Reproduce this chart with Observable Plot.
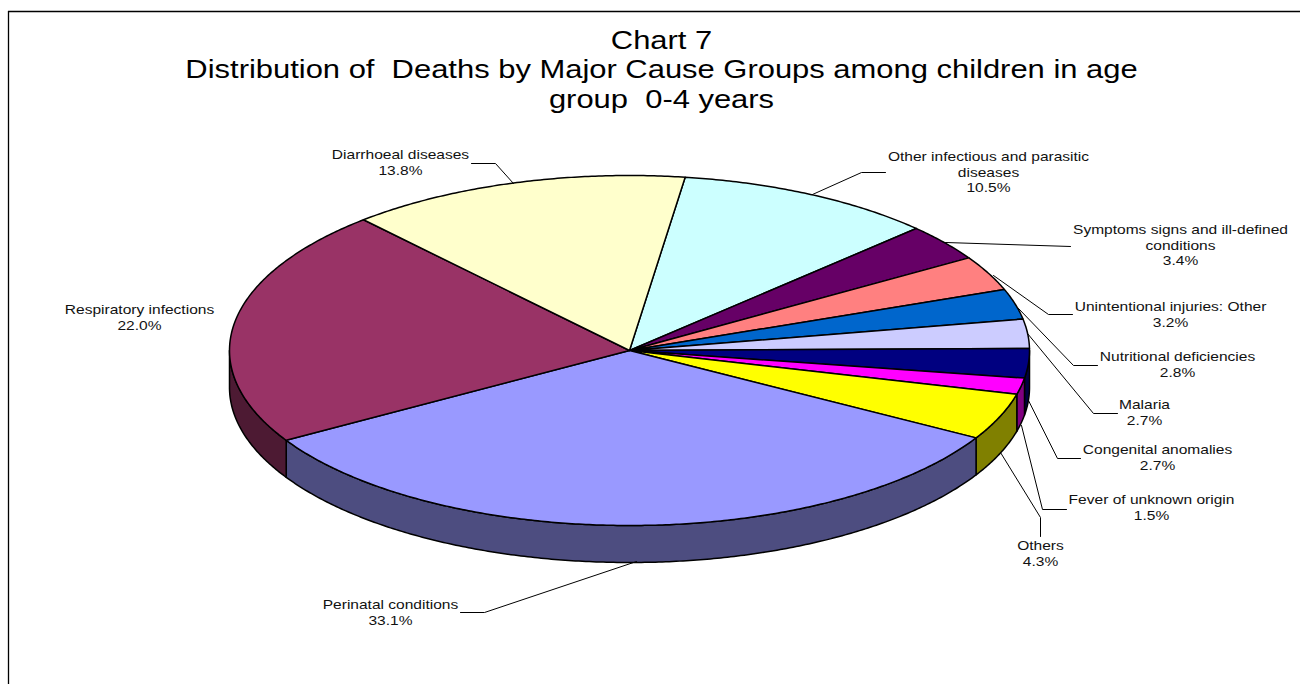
<!DOCTYPE html>
<html>
<head>
<meta charset="utf-8">
<style>
html, body { margin: 0; padding: 0; background: #fff; overflow: hidden; }
svg { display: block; white-space: pre; }
</style>
<script src="https://cdn.jsdelivr.net/npm/d3@7"></script>
<script src="https://cdn.jsdelivr.net/npm/@observablehq/plot@0.6"></script>
</head>
<body>
<div id="chart"></div>
<script>
const titleLines = ["Chart 7", "Distribution of  Deaths by Major Cause Groups among children in age", "group  0-4 years"];
const categories = ["Other infectious and parasitic\ndiseases", "Symptoms signs and ill-defined\nconditions", "Unintentional injuries: Other", "Nutritional deficiencies", "Malaria", "Congenital anomalies", "Fever of unknown origin", "Others", "Perinatal conditions", "Respiratory infections", "Diarrhoeal diseases"];
const shares = [10.5, 3.4, 3.2, 2.8, 2.7, 2.7, 1.5, 4.3, 33.1, 22.0, 13.8];
const topColors = ["#CCFFFF", "#660066", "#FF8080", "#0066CC", "#CCCCFF", "#000080", "#FF00FF", "#FFFF00", "#9999FF", "#993366", "#FFFFCC"];
const sideColors = ["#668080", "#330033", "#804040", "#003366", "#666680", "#000040", "#800080", "#808000", "#4D4D80", "#4D1A33", "#808066"];

// layout of the drawing, in page pixels
const pie = {cx: 629, cy: 350, rx: 400, ry: 175, depth: 37, start: 8};
const labelX = [988, 1180, 1170, 1177, 1144, 1157, 1151, 1040, 390, 139, 400];
const labelY = [150, 223, 300, 350, 398, 443, 493, 539, 598, 303, 148];
const leaders = [
  [[885, 172], [861, 172], [812, 194]],
  [[1070, 246], [945, 242]],
  [[1072, 314], [1048, 314], [993, 275]],
  [[1097, 365], [1073, 365], [1018, 308]],
  [[1117, 413], [1093, 413], [1027, 333]],
  [[1080, 458], [1057, 458], [1028, 400]],
  [[1066, 509], [1042, 509], [1021, 425]],
  [[1040, 536], [1040, 517], [1000, 452]],
  [[460, 612], [484, 612], [636, 561]],
  [],
  [[471, 163], [495, 163], [513, 183]]
];

const rad = d => d * Math.PI / 180;
const rim = (t, dy = 0) => ({x: pie.cx + pie.rx * Math.sin(rad(t)), y: pie.cy - pie.ry * Math.cos(rad(t)) + dy});
const arc = (a, b, dy = 0) => {
  const n = Math.max(2, Math.ceil(Math.abs(b - a) * 2));
  return d3.range(n + 1).map(i => rim(a + (b - a) * i / n, dy));
};

let cum = pie.start;
const slices = shares.map((v, i) => {
  const a = cum;
  cum += v * 3.6;
  return {i, a, b: cum};
});

const sideMarks = slices.flatMap(({i, a, b}) => {
  const lo = Math.max(a, 90), hi = Math.min(b, 270);
  if (hi <= lo) return [];
  const pts = [...arc(lo, hi), ...arc(hi, lo, pie.depth)];
  pts.push(pts[0]);
  return [Plot.line(pts, {x: "x", y: "y", fill: sideColors[i], stroke: "#000", strokeWidth: 1.5})];
});
const topMarks = slices.map(({i, a, b}) => {
  const c = {x: pie.cx, y: pie.cy};
  return Plot.line([c, ...arc(a, b), c], {x: "x", y: "y", fill: topColors[i], stroke: "#000", strokeWidth: 1.5});
});
const leaderMarks = leaders.filter(l => l.length).map(l =>
  Plot.line(l, {x: d => d[0], y: d => d[1], stroke: "#000", strokeWidth: 1}));

const labels = categories.map((c, i) => ({text: `${c}\n${shares[i].toFixed(1)}%`, x: labelX[i], y: labelY[i]}));
const titles = titleLines.map((text, i) => ({text, x: 661, y: 40 + i * 29.5}));

const chart = Plot.plot({
  width: 1300, height: 684,
  margin: 0,
  x: {domain: [0, 1300], range: [0, 1300], axis: null},
  y: {domain: [0, 684], range: [0, 684], axis: null},
  style: {background: "#fff", fontFamily: "'Liberation Sans', Arial, sans-serif"},
  marks: [
    Plot.ruleX([8], {y1: 11, y2: 684, stroke: "#000", strokeWidth: 1.3}),
    Plot.ruleY([11], {x1: 8, x2: 1300, stroke: "#000", strokeWidth: 1.3}),
    ...sideMarks,
    ...topMarks,
    ...leaderMarks,
    Plot.text(labels, {x: "x", y: "y", text: "text", fontSize: 13.4, lineHeight: 1.14, lineAnchor: "top", textAnchor: "middle", fill: "#111"}),
    Plot.text(titles, {x: "x", y: "y", text: "text", fontSize: 26, textAnchor: "middle", fill: "#000"})
  ]
});
// the reference's lettering is stretched sideways: widen each text about its anchor
const textGroups = chart.querySelectorAll('g[aria-label="text"]');
[1.16, 1.19].forEach((sx, k) => {
  textGroups[k].querySelectorAll("text").forEach(t => {
    t.setAttribute("transform", `${t.getAttribute("transform") || ""} scale(${sx},1)`);
  });
});
document.getElementById("chart").append(chart);
</script>
</body>
</html>
